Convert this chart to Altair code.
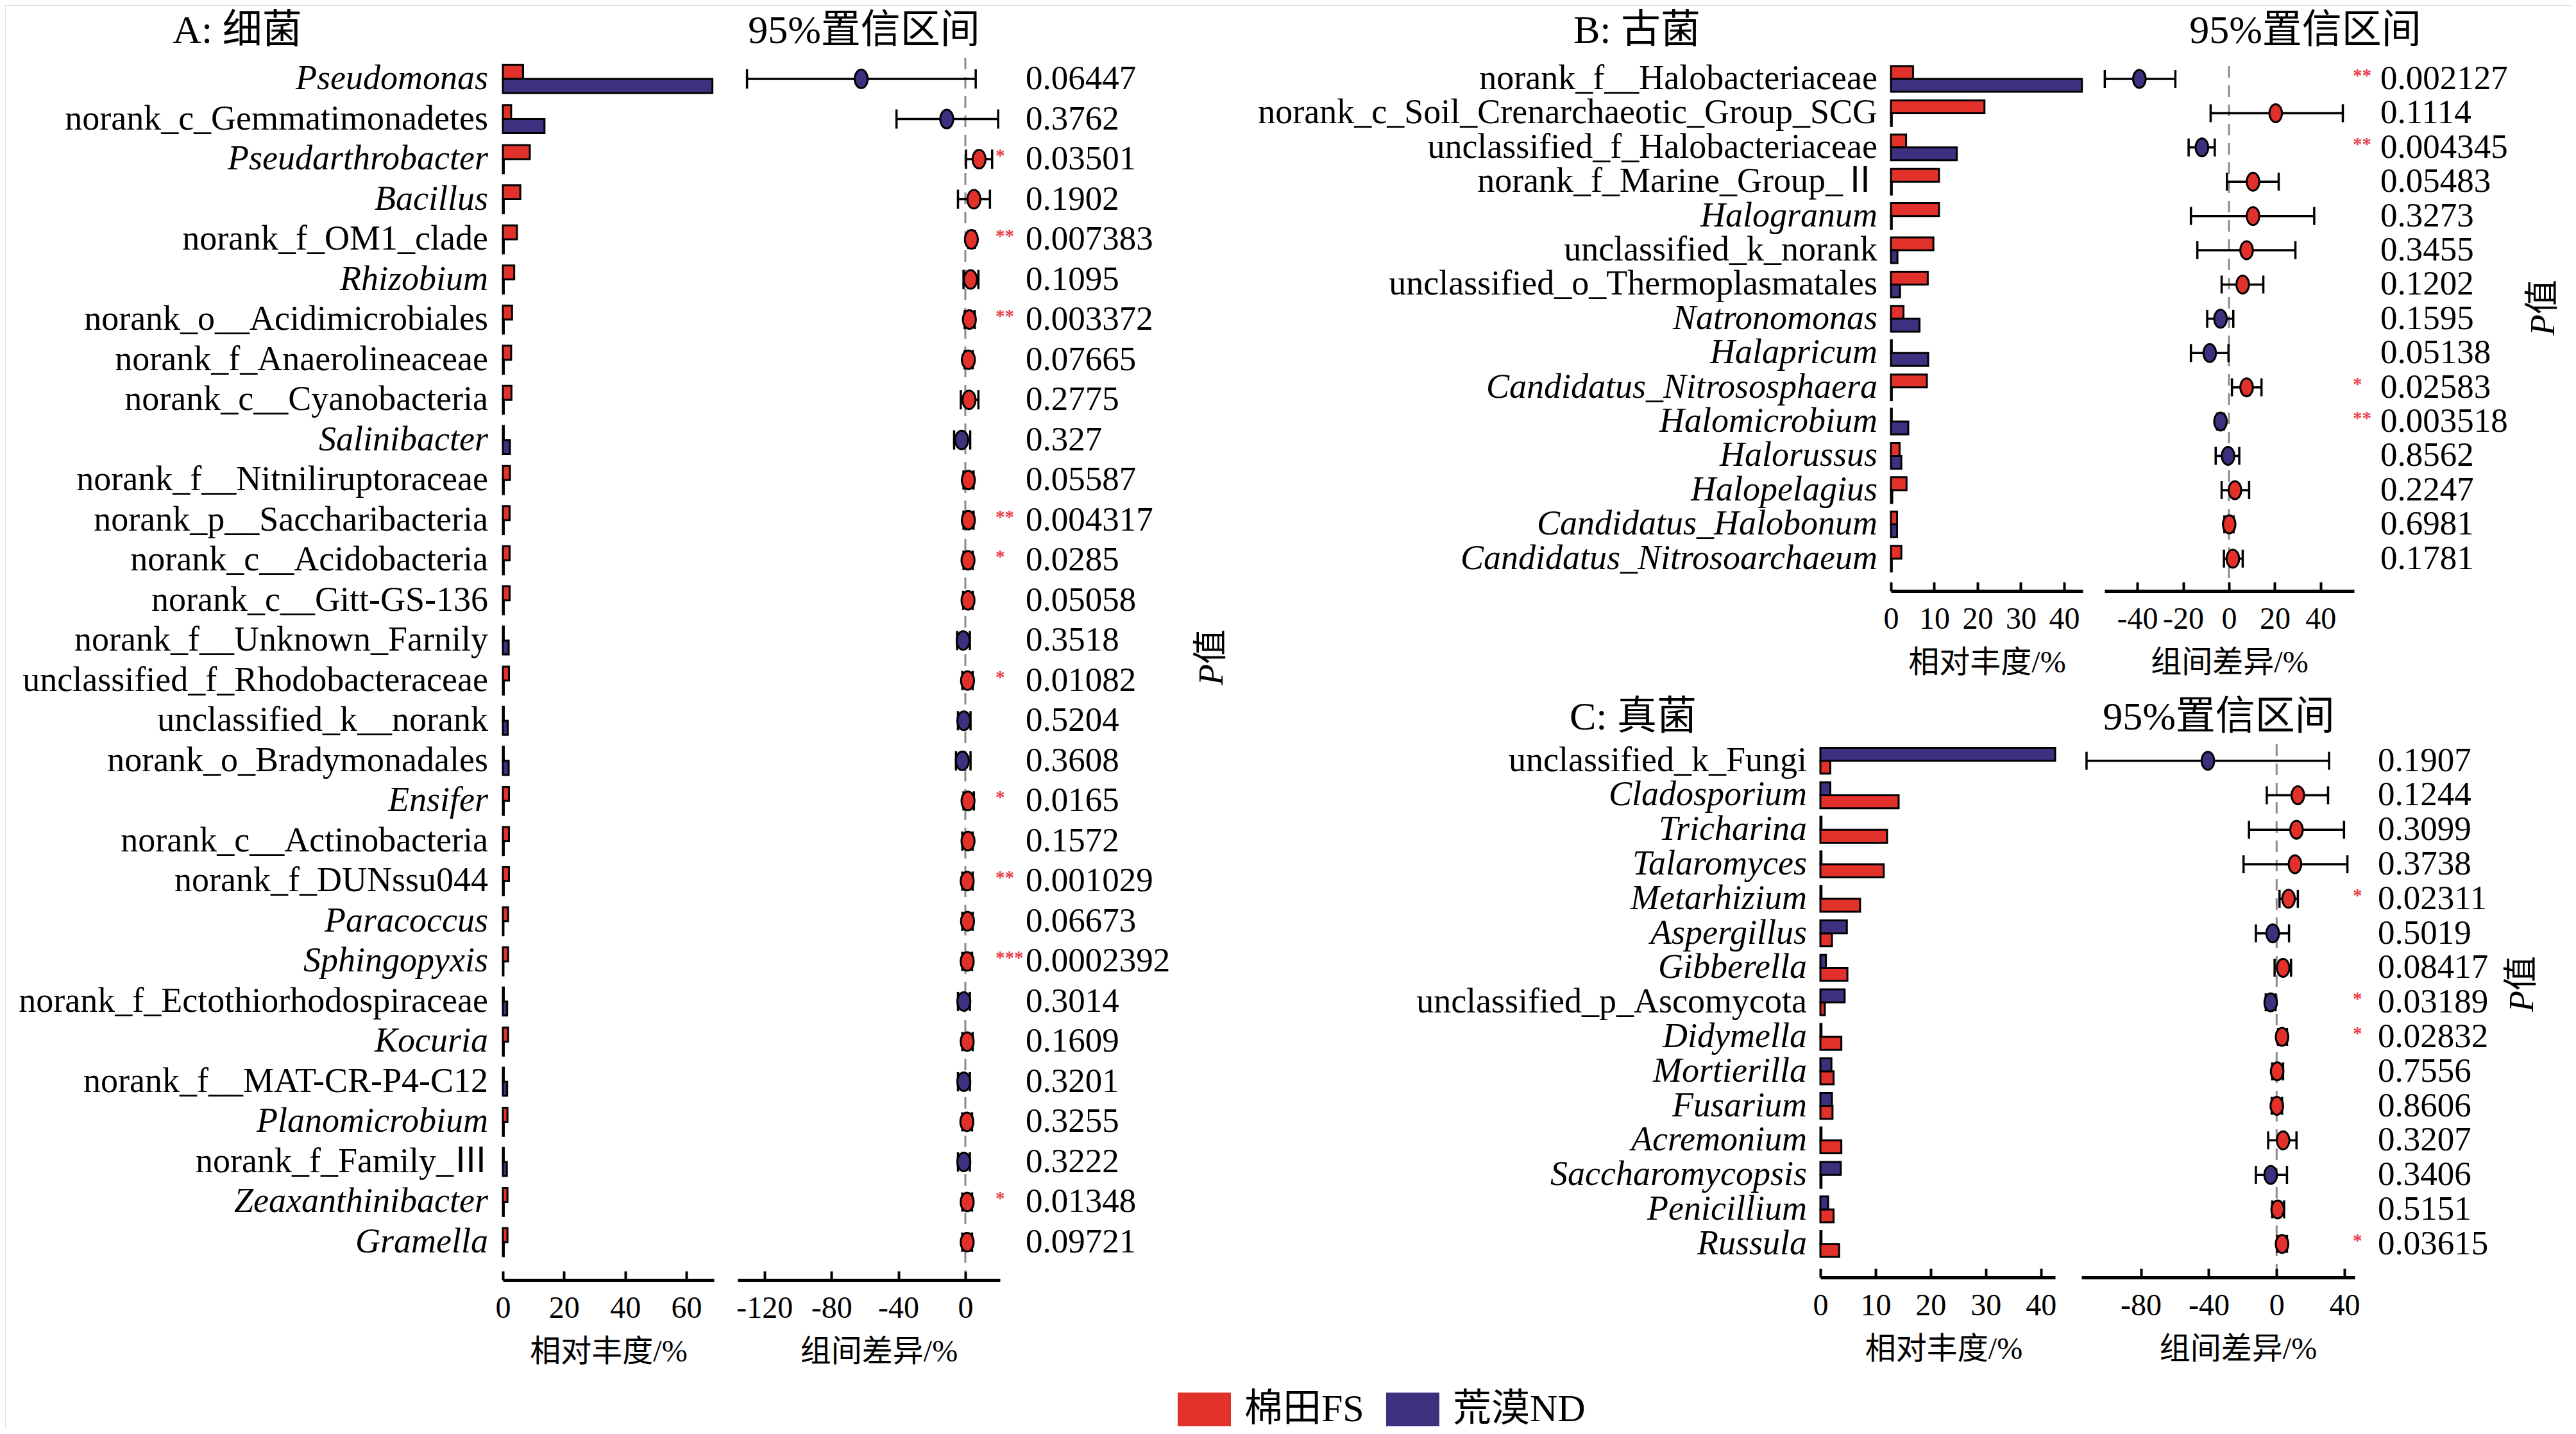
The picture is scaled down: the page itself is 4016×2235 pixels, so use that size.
import altair as alt
import pandas as pd

FONT = "Liberation Serif, Noto Sans CJK SC"
RED = "#E2312B"
BLUE = "#3E307E"
STAR_RED = "#E8414A"
FS = "棉田FS"
ND = "荒漠ND"

# ---------------- A: 细菌 ----------------
A_taxa = ["Pseudomonas", "norank_c_Gemmatimonadetes", "Pseudarthrobacter", "Bacillus",
          "norank_f_OM1_clade", "Rhizobium", "norank_o__Acidimicrobiales", "norank_f_Anaerolineaceae",
          "norank_c__Cyanobacteria", "Salinibacter", "norank_f__Nitniliruptoraceae",
          "norank_p__Saccharibacteria", "norank_c__Acidobacteria", "norank_c__Gitt-GS-136",
          "norank_f__Unknown_Farnily", "unclassified_f_Rhodobacteraceae", "unclassified_k__norank",
          "norank_o_Bradymonadales", "Ensifer", "norank_c__Actinobacteria", "norank_f_DUNssu044",
          "Paracoccus", "Sphingopyxis", "norank_f_Ectothiorhodospiraceae", "Kocuria",
          "norank_f__MAT-CR-P4-C12", "Planomicrobium", "norank_f_Family_Ⅲ", "Zeaxanthinibacter",
          "Gramella"]
A_italic = ["Pseudomonas", "Pseudarthrobacter", "Bacillus", "Rhizobium", "Salinibacter", "Ensifer",
            "Paracoccus", "Sphingopyxis", "Kocuria", "Planomicrobium", "Zeaxanthinibacter", "Gramella"]
A_fs = [6.6, 2.7, 8.8, 5.7, 4.6, 3.7, 3.0, 2.7, 2.8, 0.3, 2.3, 2.2, 2.2, 2.2, 0.3,
        2.0, 0.3, 0.3, 2.0, 2.0, 2.0, 1.7, 1.7, 0.3, 1.7, 0.3, 1.5, 0.3, 1.5, 1.5]
A_nd = [68.5, 13.6, 0.3, 0.3, 0.3, 0.3, 0.3, 0.3, 0.3, 2.3, 0.3, 0.3, 0.3, 0.3, 1.9,
        0.3, 1.6, 1.9, 0.3, 0.3, 0.3, 0.2, 0.2, 1.4, 0.3, 1.4, 0.3, 1.3, 0.3, 0.3]
A_diff = [-62.2, -11.1, 8.2, 5.1, 3.6, 3.1, 2.4, 1.8, 2.2, -2.2, 1.8, 1.8, 1.6, 1.6, -1.3,
          1.3, -0.9, -1.8, 1.6, 1.6, 1.1, 1.3, 1.1, -0.9, 1.1, -0.9, 0.9, -0.9, 1.1, 1.1]
A_lo = [-130.4, -41.1, 0.4, -4.4, 1.8, -1.1, -0.4, -0.4, -2.7, -6.7, -1.1, -1.1, -1.1, -1.3, -4.9,
        -1.8, -4.4, -5.6, -1.1, -1.8, -1.8, -1.8, -1.8, -4.4, -1.8, -4.4, -1.8, -4.4, -1.8, -1.8]
A_hi = [6.2, 19.6, 16.0, 14.7, 5.6, 7.8, 5.6, 4.4, 7.8, 2.9, 4.9, 4.9, 4.4, 4.4, 2.7,
        4.4, 3.1, 3.1, 5.1, 4.4, 4.4, 4.4, 4.0, 2.7, 4.4, 2.7, 4.0, 2.7, 4.0, 4.0]
A_p = ["0.06447", "0.3762", "0.03501", "0.1902", "0.007383", "0.1095", "0.003372", "0.07665",
       "0.2775", "0.327", "0.05587", "0.004317", "0.0285", "0.05058", "0.3518", "0.01082",
       "0.5204", "0.3608", "0.0165", "0.1572", "0.001029", "0.06673", "0.0002392", "0.3014",
       "0.1609", "0.3201", "0.3255", "0.3222", "0.01348", "0.09721"]

# ---------------- B: 古菌 ----------------
B_taxa = ["norank_f__Halobacteriaceae", "norank_c_Soil_Crenarchaeotic_Group_SCG",
          "unclassified_f_Halobacteriaceae", "norank_f_Marine_Group_Ⅱ", "Halogranum",
          "unclassified_k_norank", "unclassified_o_Thermoplasmatales", "Natronomonas", "Halapricum",
          "Candidatus_Nitrososphaera", "Halomicrobium", "Halorussus", "Halopelagius",
          "Candidatus_Halobonum", "Candidatus_Nitrosoarchaeum"]
B_italic = ["Halogranum", "Natronomonas", "Halapricum", "Candidatus_Nitrososphaera", "Halomicrobium",
            "Halorussus", "Halopelagius", "Candidatus_Halobonum", "Candidatus_Nitrosoarchaeum"]
B_fs = [5.1, 21.6, 3.5, 11.1, 11.1, 9.8, 8.5, 2.9, 0.2, 8.3, 0.2, 2.0, 3.6, 1.4, 2.4]
B_nd = [44.1, 0.2, 15.2, 0.2, 0.2, 1.5, 2.1, 6.6, 8.6, 0.2, 4.0, 2.4, 0.3, 1.4, 0.2]
B_diff = [-39.1, 20.4, -11.8, 10.5, 10.5, 7.7, 6.0, -3.7, -8.4, 7.7, -3.7, -0.4, 2.6, 0.1, 1.7]
B_lo = [-54.2, -8.0, -17.6, -0.9, -16.6, -13.8, -3.2, -9.5, -16.6, 1.3, -5.2, -5.8, -3.2, -2.0, -2.2]
B_hi = [-23.4, 49.7, -6.2, 21.7, 37.2, 29.0, 15.0, 1.9, -0.2, 14.2, -2.2, 4.5, 8.8, 2.0, 6.0]
B_p = ["0.002127", "0.1114", "0.004345", "0.05483", "0.3273", "0.3455", "0.1202", "0.1595",
       "0.05138", "0.02583", "0.003518", "0.8562", "0.2247", "0.6981", "0.1781"]

# ---------------- C: 真菌 ----------------
C_taxa = ["unclassified_k_Fungi", "Cladosporium", "Tricharina", "Talaromyces", "Metarhizium",
          "Aspergillus", "Gibberella", "unclassified_p_Ascomycota", "Didymella", "Mortierilla",
          "Fusarium", "Acremonium", "Saccharomycopsis", "Penicillium", "Russula"]
C_italic = ["Cladosporium", "Tricharina", "Talaromyces", "Metarhizium", "Aspergillus", "Gibberella",
            "Didymella", "Mortierilla", "Fusarium", "Acremonium", "Saccharomycopsis", "Penicillium",
            "Russula"]
C_fs = [1.8, 14.2, 12.1, 11.5, 7.2, 2.1, 4.9, 0.8, 3.8, 2.4, 2.2, 3.8, 0.2, 2.4, 3.4]
C_nd = [42.6, 1.8, 0.2, 0.2, 0.2, 4.8, 1.0, 4.4, 0.2, 2.0, 2.1, 0.2, 3.7, 1.4, 0.2]
C_diff = [-40.5, 12.5, 11.7, 10.8, 7.0, -2.3, 3.8, -3.5, 3.2, 0.3, 0.1, 3.8, -3.5, 0.6, 3.2]
C_lo = [-112.0, -5.8, -16.3, -19.5, 1.7, -12.2, -1.2, -6.4, 0.9, -2.6, -2.9, -5.0, -12.2, -2.6, 0.3]
C_hi = [30.9, 30.3, 39.7, 41.7, 12.5, 7.3, 8.5, -0.6, 6.1, 3.8, 3.2, 11.7, 6.1, 4.4, 6.1]
C_p = ["0.1907", "0.1244", "0.3099", "0.3738", "0.02311", "0.5019", "0.08417", "0.03189",
       "0.02832", "0.7556", "0.8606", "0.3207", "0.3406", "0.5151", "0.03615"]

ELLIPSE = "M0,-1A0.7,1 0 1,1 0,1A0.7,1 0 1,1 0,-1Z"
LEG_RECT = "M-1,-0.63H1V0.63H-1Z"

LEGEND = alt.Legend(title=None, orient="none", legendX=1828, legendY=2147, direction="horizontal",
                    symbolType=LEG_RECT, symbolSize=6889, symbolStrokeWidth=0, symbolOpacity=1,
                    labelFont=FONT, labelFontSize=60, labelColor="black", labelOffset=21,
                    columnPadding=34, padding=0, labelLimit=500)
COLOR_SCALE = alt.Scale(domain=[FS, ND], range=[RED, BLUE])


def stars(p):
    v = float(p)
    if v < 0.001:
        return "***"
    if v < 0.01:
        return "**"
    if v < 0.05:
        return "*"
    return ""


def x_axis(values, title, ay, title_x=None):
    kw = dict(orient="top", offset=-ay, values=values, grid=False,
              domainColor="black", domainWidth=5, tickColor="black", tickWidth=4, tickSize=14,
              labelFont=FONT, labelFontSize=48, labelColor="black", labelBaseline="middle",
              labelPadding=-(14 + 44), labelFlush=False, labelOverlap=False,
              labelExpr="'' + datum.value",
              title=title, titleFont=FONT, titleFontSize=48, titleFontWeight="normal",
              titleColor="black", titleBaseline="middle", titleY=112)
    if title_x is not None:
        kw["titleX"] = title_x
    return alt.Axis(**kw)


def panel(taxa, italic, fs, nd, diff, lo, hi, pv, cfg):
    df = pd.DataFrame({"taxon": taxa, FS: fs, ND: nd, "diff": diff, "lo": lo, "hi": hi, "p": pv})
    df["star"] = [stars(p) for p in pv]
    df["higher"] = [FS if d > 0 else ND for d in diff]
    df["italic"] = [t in italic for t in taxa]
    base = alt.Chart(df)

    yenc = alt.Y("taxon:N", sort=taxa, axis=None,
                 scale=alt.Scale(domain=taxa, range=cfg["yr"], paddingInner=cfg["pi"],
                                 paddingOuter=cfg["po"]))

    bars = base.transform_fold([FS, ND], as_=["group", "value"]).mark_bar(
        stroke="black", strokeWidth=3).encode(
        x=alt.X("value:Q", stack=None,
                scale=alt.Scale(domain=[0, cfg["bmax"]], range=cfg["bx"], nice=False, zero=False),
                axis=x_axis(cfg["bticks"], "相对丰度/%", cfg["ay"], cfg.get("btx"))),
        y=yenc,
        yOffset=alt.YOffset("group:N", sort=cfg["order"],
                            scale=alt.Scale(domain=cfg["order"], paddingInner=0, paddingOuter=0)),
        color=alt.Color("group:N", scale=COLOR_SCALE, legend=LEGEND),
    )

    xci = alt.Scale(domain=cfg["cdom"], range=cfg["cx"], nice=False, zero=False)
    zero = alt.Chart(pd.DataFrame({"zero": [0]})).mark_rule(
        color="#8a8a8a", strokeWidth=3, strokeDash=[18, 12]).encode(
        x=alt.X("zero:Q"), y=alt.value(cfg["z"][0]), y2=alt.value(cfg["z"][1]))
    rule = base.mark_rule(color="black", strokeWidth=3.5).encode(
        x=alt.X("lo:Q"), x2="hi:Q", y=yenc)
    cap_lo = base.mark_tick(color="black", thickness=3.5, size=cfg["cap"], opacity=1).encode(
        x=alt.X("lo:Q"), y=yenc)
    cap_hi = base.mark_tick(color="black", thickness=3.5, size=cfg["cap"], opacity=1).encode(
        x=alt.X("hi:Q"), y=yenc)
    pts = base.mark_point(shape=ELLIPSE, filled=True, size=cfg["psize"], stroke="black",
                          strokeWidth=3, opacity=1).encode(
        x=alt.X("diff:Q", scale=xci,
                axis=x_axis(cfg["cticks"], "组间差异/%", cfg["ay"], cfg.get("ctx"))),
        y=yenc,
        color=alt.Color("higher:N", scale=COLOR_SCALE, legend=LEGEND),
    )
    ci = alt.layer(zero, rule, cap_lo, cap_hi, pts)

    lab_it = base.transform_filter("datum.italic").mark_text(
        align="right", baseline="middle", font=FONT, fontSize=54, fontStyle="italic",
        color="black").encode(x=alt.value(cfg["lx"]), y=yenc, text="taxon:N")
    lab_n = base.transform_filter("!datum.italic").mark_text(
        align="right", baseline="middle", font=FONT, fontSize=54, color="black").encode(
        x=alt.value(cfg["lx"]), y=yenc, text="taxon:N")
    ptxt = base.mark_text(align="left", baseline="middle", font=FONT, fontSize=53,
                          color="black").encode(x=alt.value(cfg["px"]), y=yenc, text="p:N")
    stxt = base.mark_text(align="left", baseline="middle", font=FONT, fontSize=29, fontWeight="bold",
                          color=STAR_RED, dy=-5).encode(x=alt.value(cfg["sx"]), y=yenc,
                                                        text="star:N")

    return alt.layer(bars, ci, lab_it, lab_n, ptxt, stxt).resolve_scale(x="independent")


def note(text, x, y, size, angle=0, align="center", style="normal"):
    return alt.Chart(pd.DataFrame({"t": [text]})).mark_text(
        align=align, baseline="middle", font=FONT, fontSize=size, angle=angle, fontStyle=style,
        color="black").encode(text="t:N", x=alt.value(x), y=alt.value(y))


cfgA = dict(yr=[83.75, 1959.25], pi=0.3, po=0.15, bmax=69, bx=[776, 1105], bticks=[0, 20, 40, 60],
            order=[FS, ND], cdom=[-136, 20.7], cx=[1142, 1551], cticks=[-120, -80, -40, 0],
            ay=1987, ctx=1362, z=[82, 1975], cap=30, psize=841, lx=753, px=1591, sx=1544)
cfgB = dict(yr=[88.3, 889.4], pi=0.25, po=0.125, bmax=44.3, bx=[2940, 3239],
            bticks=[0, 10, 20, 30, 40], order=[FS, ND], cdom=[-54.3, 54.6], cx=[3273, 3662],
            cticks=[-40, -20, 0, 20, 40], ay=913, z=[95, 903], cap=28, psize=784,
            lx=2919, px=3703, sx=3660)
cfgC = dict(yr=[1150.8, 1957.6], pi=0.25, po=0.125, bmax=42.6, bx=[2830, 3196],
            bticks=[0, 10, 20, 30, 40], order=[ND, FS], cdom=[-115, 46], cx=[3237, 3663],
            cticks=[-80, -40, 0, 40], ay=1983, btx=3022, ctx=3481, z=[1152, 1969], cap=28,
            psize=784, lx=2809, px=3699, sx=3660)

pA = panel(A_taxa, A_italic, A_fs, A_nd, A_diff, A_lo, A_hi, A_p, cfgA)
pB = panel(B_taxa, B_italic, B_fs, B_nd, B_diff, B_lo, B_hi, B_p, cfgB)
pC = panel(C_taxa, C_italic, C_fs, C_nd, C_diff, C_lo, C_hi, C_p, cfgC)

notes = [
    note("A: 细菌", 362, 40, 62),
    note("95%置信区间", 1339, 40, 62),
    note("B: 古菌", 2544, 40, 62),
    note("95%置信区间", 3586, 40, 62),
    note("C: 真菌", 2538, 1110, 62),
    note("95%置信区间", 3451, 1110, 62),
    note("P", 1882, 1027, 54, angle=270, align="right", style="italic"),
    note("值", 1882, 1027, 54, angle=270, align="left"),
    note("P", 3958, 482, 54, angle=270, align="right", style="italic"),
    note("值", 3958, 482, 54, angle=270, align="left"),
    note("P", 3925, 1536, 54, angle=270, align="right", style="italic"),
    note("值", 3925, 1536, 54, angle=270, align="left"),
]

chart = alt.layer(pA, pB, pC, *notes).resolve_scale(
    x="independent", y="independent", yOffset="independent"
).properties(
    width=4000, height=2219, padding=0, autosize=alt.AutoSizeParams(type="none")
).configure_view(stroke=None).configure(background="white", font=FONT)

chart.save("out.html", embed_options={"renderer": "svg", "actions": False})
